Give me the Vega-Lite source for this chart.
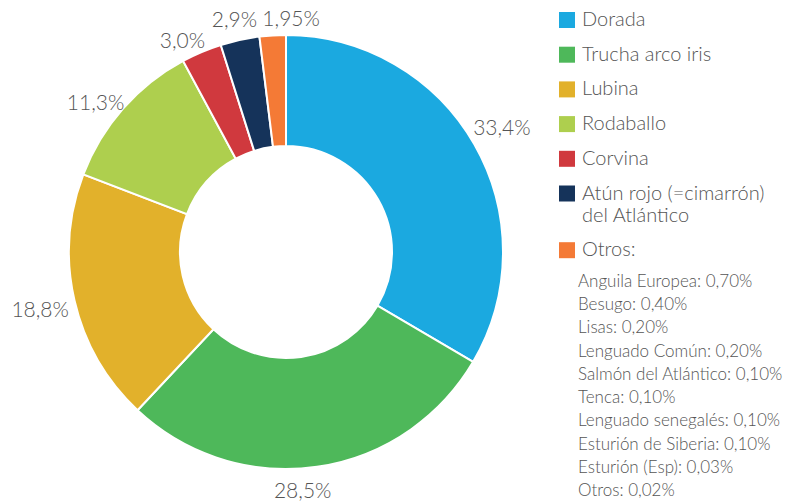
{
  "$schema": "https://vega.github.io/schema/vega-lite/v6.json",
  "width": 787,
  "height": 502,
  "autosize": {"type": "none"},
  "padding": 0,
  "background": "white",
  "config": {"view": {"stroke": null}, "font": "Lato", "text": {"fontWeight": 300}},
  "data": {
    "values": [
      {"especie": "Dorada", "valor": 33.4, "etiqueta": "33,4%", "orden": 1},
      {"especie": "Trucha arco iris", "valor": 28.5, "etiqueta": "28,5%", "orden": 2},
      {"especie": "Lubina", "valor": 18.8, "etiqueta": "18,8%", "orden": 3},
      {"especie": "Rodaballo", "valor": 11.3, "etiqueta": "11,3%", "orden": 4},
      {"especie": "Corvina", "valor": 3.0, "etiqueta": "3,0%", "orden": 5},
      {"especie": "Atún rojo (=cimarrón) del Atlántico", "valor": 2.9, "etiqueta": "2,9%", "orden": 6},
      {"especie": "Otros:", "valor": 1.95, "etiqueta": "1,95%", "orden": 7}
    ]
  },
  "layer": [
    {
      "mark": {"type": "arc", "x": 286, "y": 252, "outerRadius": 217, "innerRadius": 106, "stroke": "white", "strokeWidth": 2},
      "encoding": {
        "theta": {"field": "valor", "type": "quantitative", "stack": true},
        "order": {"field": "orden", "type": "quantitative"},
        "color": {
          "field": "especie",
          "type": "nominal",
          "scale": {
            "domain": ["Dorada", "Trucha arco iris", "Lubina", "Rodaballo", "Corvina", "Atún rojo (=cimarrón) del Atlántico", "Otros:"],
            "range": ["#1BA9E0", "#4EB85A", "#E2B12B", "#AECF4E", "#D0393E", "#15335A", "#F47A36"]
          },
          "legend": {
            "title": null,
            "orient": "none",
            "legendX": 557,
            "legendY": 10,
            "symbolType": "square",
            "symbolSize": 256,
            "symbolStrokeWidth": 0,
            "labelFont": "Lato",
            "labelFontWeight": 300,
            "labelFontSize": 20,
            "labelColor": "#555555",
            "labelLimit": 300,
            "labelOffset": 5,
            "rowPadding": 14.7,
            "labelExpr": "datum.label == 'Atún rojo (=cimarrón) del Atlántico' ? ['Atún rojo (=cimarrón)', 'del Atlántico'] : datum.label"
          }
        }
      }
    },
    {
      "mark": {"type": "text", "x": 286, "y": 252, "radius": 243, "dx": 5, "dy": -2, "fontSize": 21, "color": "#555555", "align": "center", "baseline": "middle"},
      "encoding": {
        "theta": {"field": "valor", "type": "quantitative", "stack": true},
        "order": {"field": "orden", "type": "quantitative"},
        "text": {"field": "etiqueta", "type": "nominal", "condition": {"test": "datum.orden != 1", "value": ""}}
      }
    },
    {
      "mark": {"type": "text", "x": 286, "y": 252, "radius": 243, "dx": -18, "dy": -1, "fontSize": 21, "color": "#555555", "align": "center", "baseline": "middle"},
      "encoding": {
        "theta": {"field": "valor", "type": "quantitative", "stack": true},
        "order": {"field": "orden", "type": "quantitative"},
        "text": {"field": "etiqueta", "type": "nominal", "condition": {"test": "datum.orden != 2", "value": ""}}
      }
    },
    {
      "mark": {"type": "text", "x": 286, "y": 252, "radius": 243, "dx": -9, "dy": 5, "fontSize": 21, "color": "#555555", "align": "center", "baseline": "middle"},
      "encoding": {
        "theta": {"field": "valor", "type": "quantitative", "stack": true},
        "order": {"field": "orden", "type": "quantitative"},
        "text": {"field": "etiqueta", "type": "nominal", "condition": {"test": "datum.orden != 3", "value": ""}}
      }
    },
    {
      "mark": {"type": "text", "x": 286, "y": 252, "radius": 243, "dx": -8, "dy": 12, "fontSize": 21, "color": "#555555", "align": "center", "baseline": "middle"},
      "encoding": {
        "theta": {"field": "valor", "type": "quantitative", "stack": true},
        "order": {"field": "orden", "type": "quantitative"},
        "text": {"field": "etiqueta", "type": "nominal", "condition": {"test": "datum.orden != 4", "value": ""}}
      }
    },
    {
      "mark": {"type": "text", "x": 286, "y": 252, "radius": 243, "dx": -9, "dy": 14, "fontSize": 21, "color": "#555555", "align": "center", "baseline": "middle"},
      "encoding": {
        "theta": {"field": "valor", "type": "quantitative", "stack": true},
        "order": {"field": "orden", "type": "quantitative"},
        "text": {"field": "etiqueta", "type": "nominal", "condition": {"test": "datum.orden != 5", "value": ""}}
      }
    },
    {
      "mark": {"type": "text", "x": 286, "y": 252, "radius": 243, "dx": 0, "dy": 6, "fontSize": 21, "color": "#555555", "align": "center", "baseline": "middle"},
      "encoding": {
        "theta": {"field": "valor", "type": "quantitative", "stack": true},
        "order": {"field": "orden", "type": "quantitative"},
        "text": {"field": "etiqueta", "type": "nominal", "condition": {"test": "datum.orden != 6", "value": ""}}
      }
    },
    {
      "mark": {"type": "text", "x": 286, "y": 252, "radius": 243, "dx": 20, "dy": 11, "fontSize": 21, "color": "#555555", "align": "center", "baseline": "middle"},
      "encoding": {
        "theta": {"field": "valor", "type": "quantitative", "stack": true},
        "order": {"field": "orden", "type": "quantitative"},
        "text": {"field": "etiqueta", "type": "nominal", "condition": {"test": "datum.orden != 7", "value": ""}}
      }
    },
    {
      "data": {
        "values": [
          {"detalle": "Anguila Europea: 0,70%", "orden": 1},
          {"detalle": "Besugo: 0,40%", "orden": 2},
          {"detalle": "Lisas: 0,20%", "orden": 3},
          {"detalle": "Lenguado Común: 0,20%", "orden": 4},
          {"detalle": "Salmón del Atlántico: 0,10%", "orden": 5},
          {"detalle": "Tenca: 0,10%", "orden": 6},
          {"detalle": "Lenguado senegalés: 0,10%", "orden": 7},
          {"detalle": "Esturión de Siberia: 0,10%", "orden": 8},
          {"detalle": "Esturión (Esp): 0,03%", "orden": 9},
          {"detalle": "Otros: 0,02%", "orden": 10}
        ]
      },
      "mark": {"type": "text", "x": 578, "align": "left", "baseline": "middle", "fontSize": 17, "color": "#555555"},
      "encoding": {
        "y": {"field": "detalle", "type": "nominal", "sort": {"field": "orden", "op": "min"}, "axis": null, "scale": {"range": [282, 491], "padding": 0}},
        "text": {"field": "detalle", "type": "nominal"}
      }
    }
  ]
}
